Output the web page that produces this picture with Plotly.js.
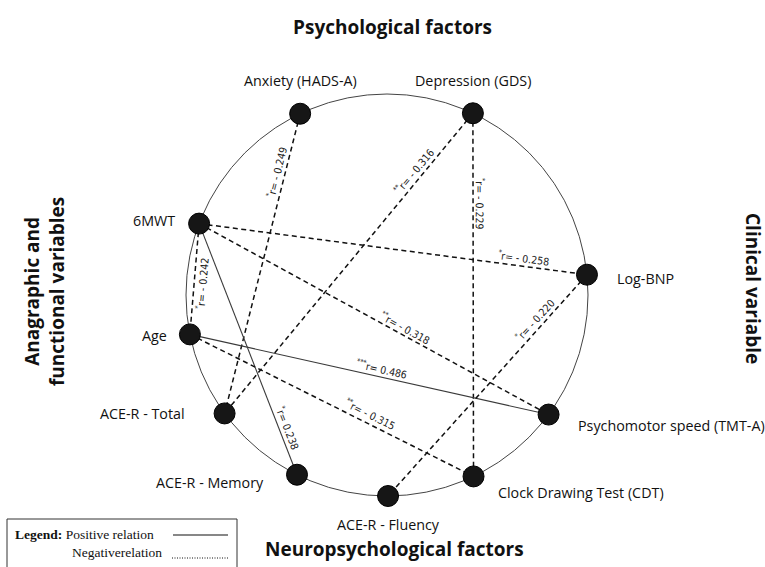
<!DOCTYPE html>
<html>
<head>
<meta charset="utf-8">
<script src="https://cdn.plot.ly/plotly-3.0.1.min.js"></script>
<style>html,body{margin:0;padding:0;background:#fff;}#chart{width:765px;height:567px;}</style>
</head>
<body>
<div id="chart"></div>
<script>
// ---- Data ----
const nodeNames = ['Anxiety (HADS-A)', 'Depression (GDS)', '6MWT', 'Log-BNP', 'Age',
  'Psychomotor speed (TMT-A)', 'ACE-R - Total', 'ACE-R - Memory', 'Clock Drawing Test (CDT)', 'ACE-R - Fluency'];
const nodeAngles = [115.6, 64.7, 159.2, 5.8, 191.3, -36.5, 216.1, 243.4, 295.5, 270.3]; // degrees on the circle

const edgeFrom = ['Anxiety (HADS-A)', 'Depression (GDS)', 'Depression (GDS)', '6MWT', '6MWT', '6MWT', '6MWT', 'Age', 'Age', 'Log-BNP'];
const edgeTo = ['ACE-R - Total', 'ACE-R - Total', 'Clock Drawing Test (CDT)', 'Log-BNP', 'Age',
  'Psychomotor speed (TMT-A)', 'ACE-R - Memory', 'Psychomotor speed (TMT-A)', 'Clock Drawing Test (CDT)', 'ACE-R - Fluency'];
const edgeR = [-0.249, -0.316, -0.229, -0.258, -0.242, -0.318, 0.238, 0.486, -0.315, -0.220];
const edgeSig = ['*', '**', '*', '*', '*', '**', '*', '***', '**', '*'];

const groupTitles = ['Psychological factors', 'Neuropsychological factors', 'Anagraphic and<br>functional variables', 'Clinical variable'];
const legendLabels = ['Positive relation', 'Negativerelation'];

// ---- Layout helpers (not data) ----
const R = 201;            // circle radius in px
const CX = 387, CY = 295; // circle centre in page px
const P = (px, py) => [px - CX, CY - py]; // page px -> data coords (1 unit = 1 px)

// label placement along each edge: fraction t, perpendicular offset
const labelT = [0.20, 0.21, 0.25, 0.835, 0.53, 0.58, 0.825, 0.53, 0.62, 0.23];
const labelOff = [9, 9, 8, 9, -8, 8, 9, 9, 10, 9];

// node label offsets (screen px) and anchors
const nodeLabelOff = [[0, -33, 'center'], [0, -33, 'center'], [-22, -3, 'right'], [28, 4, 'left'], [-21, 1, 'right'],
  [27, 11, 'left'], [-38, 0, 'right'], [-31, 8, 'right'], [22, 16, 'left'], [0, 28, 'center']];

const nx = nodeAngles.map(a => R * Math.cos(a * Math.PI / 180));
const ny = nodeAngles.map(a => R * Math.sin(a * Math.PI / 180));
const idx = n => nodeNames.indexOf(n);

const traces = [];
const annotations = [];

edgeFrom.forEach((f, i) => {
  const a = idx(f), b = idx(edgeTo[i]);
  const pos = edgeR[i] > 0;
  traces.push({
    x: [nx[a], nx[b]], y: [ny[a], ny[b]], mode: 'lines', hoverinfo: 'skip', showlegend: false,
    line: pos ? {color: '#3a3a3a', width: 1.1} : {color: '#111', width: 1.5, dash: '5px,3.5px'}
  });
  const t = labelT[i];
  const lx = nx[a] + (nx[b] - nx[a]) * t;
  const ly = ny[a] + (ny[b] - ny[a]) * t;
  const sdx = nx[b] - nx[a], sdy = -(ny[b] - ny[a]);
  let ang = Math.atan2(sdy, sdx) * 180 / Math.PI;
  if (ang >= 90) ang -= 180;
  if (ang < -90) ang += 180;
  const th = ang * Math.PI / 180;
  const upx = Math.sin(th), upy = -Math.cos(th);
  const d = labelOff[i];
  const txt = '<sup>' + edgeSig[i] + '</sup>r= ' + (edgeR[i] < 0 ? '- ' : '') + Math.abs(edgeR[i]).toFixed(3);
  annotations.push({
    x: lx + upx * d, y: ly - upy * d, text: txt, showarrow: false, textangle: ang,
    xanchor: 'center', yanchor: 'middle',
    font: {family: '"DejaVu Sans Condensed", "Liberation Sans Narrow", "Arial Narrow", sans-serif', size: 10.5, color: '#222'}
  });
});

traces.push({
  x: nx, y: ny, mode: 'markers', hoverinfo: 'text', text: nodeNames, showlegend: false,
  marker: {size: 21, color: '#161616', line: {color: '#000', width: 1}}
});

nodeNames.forEach((n, i) => {
  const o = nodeLabelOff[i];
  annotations.push({
    x: nx[i] + o[0], y: ny[i] - o[1], text: n, showarrow: false, xanchor: o[2], yanchor: 'middle',
    font: {family: '"Open Sans", sans-serif', size: 14.3, color: '#111'}
  });
});

// group titles
const titleFont = {family: '"Open Sans", sans-serif', size: 19, color: '#111'};
let p = P(392, 27);
annotations.push({x: p[0], y: p[1], text: '<b>' + groupTitles[0] + '</b>', showarrow: false, font: titleFont});
p = P(394, 549);
annotations.push({x: p[0], y: p[1], text: '<b>' + groupTitles[1] + '</b>', showarrow: false, font: titleFont});
p = P(44, 292);
annotations.push({x: p[0], y: p[1], text: '<b>' + groupTitles[2] + '</b>', showarrow: false, textangle: -90, font: titleFont});
p = P(753, 288);
annotations.push({x: p[0], y: p[1], text: '<b>' + groupTitles[3] + '</b>', showarrow: false, textangle: 90, font: titleFont});

// legend box
const lf = {family: '"Liberation Serif", "Times New Roman", serif', size: 13.5, color: '#111'};
p = P(13, 534);
annotations.push({x: p[0], y: p[1], text: '<b>Legend:</b> ' + legendLabels[0], showarrow: false, xanchor: 'left', yanchor: 'middle', font: lf});
p = P(70, 552);
annotations.push({x: p[0], y: p[1], text: legendLabels[1], showarrow: false, xanchor: 'left', yanchor: 'middle', font: lf});

const b1 = P(7, 519), b2 = P(237, 575);
const s1 = P(173, 535), s2 = P(228, 535);
const d1 = P(172, 558), d2 = P(228, 558);
const shapes = [
  {type: 'circle', xref: 'x', yref: 'y', x0: -R, x1: R, y0: -R, y1: R, line: {color: '#444', width: 1}, layer: 'below'},
  {type: 'rect', xref: 'x', yref: 'y', x0: b1[0], x1: b2[0], y0: b1[1], y1: b2[1], line: {color: '#333', width: 1}},
  {type: 'line', xref: 'x', yref: 'y', x0: s1[0], x1: s2[0], y0: s1[1], y1: s2[1], line: {color: '#111', width: 1.2}},
  {type: 'line', xref: 'x', yref: 'y', x0: d1[0], x1: d2[0], y0: d1[1], y1: d2[1], line: {color: '#111', width: 1, dash: '1px,1.5px'}}
];

const layout = {
  width: 765, height: 567,
  margin: {l: 0, r: 0, t: 0, b: 0},
  paper_bgcolor: '#fff', plot_bgcolor: '#fff',
  xaxis: {range: [-CX, 765 - CX], visible: false, fixedrange: true},
  yaxis: {range: [CY - 567, CY], visible: false, fixedrange: true},
  showlegend: false,
  annotations: annotations,
  shapes: shapes
};

Plotly.newPlot('chart', traces, layout, {staticPlot: true, displayModeBar: false});
</script>
</body>
</html>
